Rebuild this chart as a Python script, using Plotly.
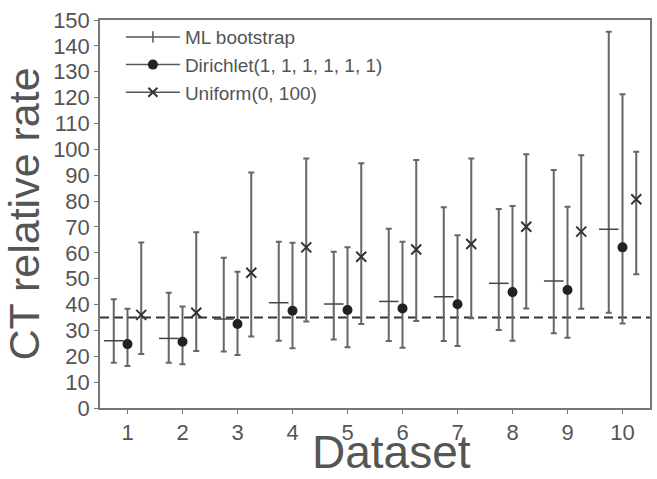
import numpy as np
import plotly.graph_objects as go

datasets = list(range(1, 11))
tick_labels = [str(d) for d in datasets]

ml_center = [26.0, 26.9, 34.4, 40.7, 40.2, 41.2, 43.0, 48.2, 49.1, 69.1]
ml_low = [17.5, 17.5, 21.8, 26.0, 26.5, 25.9, 25.9, 30.2, 28.9, 36.8]
ml_high = [42.0, 44.6, 58.1, 64.3, 60.4, 69.3, 77.6, 76.9, 92.0, 145.5]

dir_center = [24.7, 25.6, 32.5, 37.6, 37.9, 38.5, 40.1, 44.8, 45.6, 62.1]
dir_low = [16.2, 16.9, 20.5, 23.1, 23.5, 23.3, 24.0, 26.0, 27.2, 32.7]
dir_high = [38.4, 39.2, 52.7, 63.9, 62.1, 64.3, 66.8, 78.1, 77.8, 121.3]

uni_center = [36.0, 36.8, 52.3, 62.1, 58.5, 61.3, 63.4, 70.1, 68.2, 80.7]
uni_low = [20.9, 22.0, 27.6, 33.4, 32.5, 33.6, 34.7, 38.5, 38.4, 51.7]
uni_high = [64.0, 67.9, 91.0, 96.5, 94.6, 95.9, 96.5, 98.1, 97.7, 99.1]

reference_rate = 35

series = [
    ("ML bootstrap", ml_center, ml_low, ml_high, -0.25,
     dict(symbol="line-ew", size=14, color="#444", line=dict(width=1.5, color="#444")),
     dict(symbol="line-ns", size=8, color="#555", line=dict(width=1.5, color="#555"))),
    ("Dirichlet(1, 1, 1, 1, 1, 1)", dir_center, dir_low, dir_high, 0.0,
     dict(symbol="circle", size=10, color="#222", line=dict(width=0)),
     dict(symbol="circle", size=10, color="#222", line=dict(width=0))),
    ("Uniform(0, 100)", uni_center, uni_low, uni_high, 0.25,
     dict(symbol="x-thin", size=10, color="#333", line=dict(width=2, color="#333")),
     dict(symbol="x-thin", size=9, color="#333", line=dict(width=2, color="#333"))),
]

fig = go.Figure()
x_base = np.array(datasets, dtype=float)
for name, c, lo, hi, off, mk, legmk in series:
    c = np.array(c); lo = np.array(lo); hi = np.array(hi)
    fig.add_trace(go.Scatter(
        x=x_base + off, y=c, mode="markers", name=name, showlegend=False,
        marker=mk,
        error_y=dict(type="data", symmetric=False, array=hi - c, arrayminus=c - lo,
                     color="#666", thickness=2, width=3),
    ))
    fig.add_trace(go.Scatter(
        x=[None], y=[None], mode="lines+markers", name=name, showlegend=True,
        line=dict(color="#555", width=1.5), marker=legmk,
    ))

fig.add_shape(type="line", xref="paper", x0=0, x1=1, yref="y", y0=reference_rate, y1=reference_rate,
              line=dict(color="#333", width=2, dash="9px,5px"), layer="below")

fig.add_annotation(text="Dataset", xref="paper", yref="paper", x=0.53, y=-71 / 388,
                   xanchor="center", yanchor="bottom", yshift=0, borderpad=0, showarrow=False,
                   font=dict(size=46, color="#555"))

fig.update_layout(
    width=657, height=479,
    margin=dict(l=100, r=7, t=20, b=71),
    paper_bgcolor="white", plot_bgcolor="white",
    font=dict(family="Liberation Sans, Arial, sans-serif", color="#555"),
    showlegend=True,
    legend=dict(x=0.038, y=1.005, xanchor="left", yanchor="top", bgcolor="rgba(0,0,0,0)",
                font=dict(size=19, color="#555"), tracegroupgap=0, itemwidth=54),
)
fig.update_xaxes(
    range=[0.5, 10.5], tickmode="array", tickvals=datasets, ticktext=tick_labels,
    showgrid=False, zeroline=False, showline=True, linecolor="#777", linewidth=1.5, mirror=True,
    ticks="outside", ticklen=4, tickcolor="#777", tickfont=dict(size=22, color="#555"),
    ticklabelstandoff=0, automargin=False,
)
fig.update_yaxes(
    range=[0, 150], dtick=10, showgrid=False, zeroline=False, showline=True, linecolor="#777",
    linewidth=1.5, mirror=True, ticks="outside", ticklen=4, tickcolor="#777",
    tickfont=dict(size=22, color="#555"), automargin=False,
    title=dict(text="CT relative rate", font=dict(size=43, color="#555"), standoff=6),
)

fig.write_html("out.html")
